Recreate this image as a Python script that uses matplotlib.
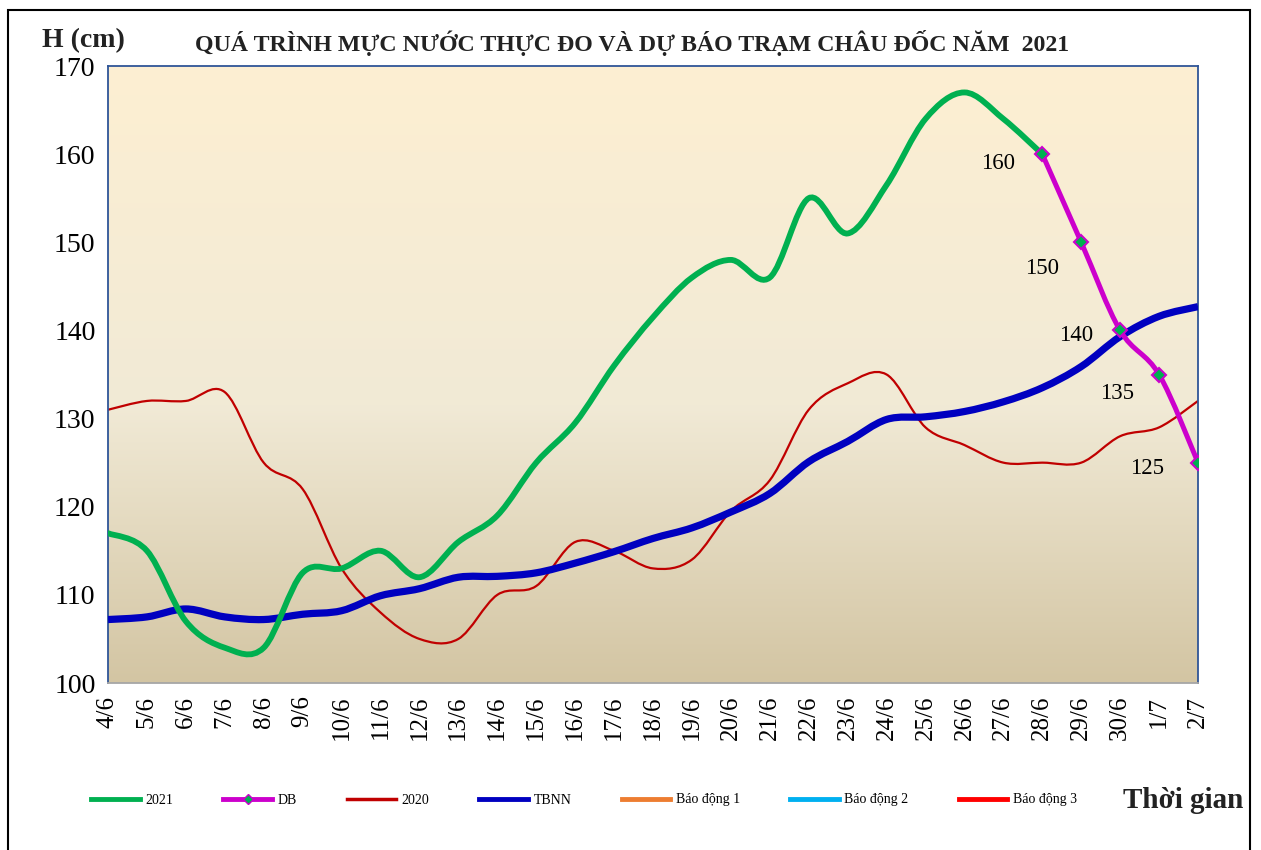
import numpy as np
import matplotlib.pyplot as plt
from matplotlib.path import Path
from matplotlib.patches import PathPatch, Rectangle
from matplotlib.lines import Line2D
from matplotlib.colors import LinearSegmentedColormap

plt.rcParams['font.family'] = ['Liberation Serif', 'DejaVu Serif']

# ---- data (cm) ----
dates = ["4/6", "5/6", "6/6", "7/6", "8/6", "9/6", "10/6", "11/6", "12/6", "13/6",
         "14/6", "15/6", "16/6", "17/6", "18/6", "19/6", "20/6", "21/6", "22/6", "23/6",
         "24/6", "25/6", "26/6", "27/6", "28/6", "29/6", "30/6", "1/7", "2/7"]

h2021 = [117, 115, 107, 104, 104, 112.5, 113, 115, 112, 116,
         119, 125, 129.5, 136, 141.5, 146, 148, 146, 155, 151,
         156.5, 164, 167, 164, 160]

db_dates = ["28/6", "29/6", "30/6", "1/7", "2/7"]
db_vals = [160, 150, 140, 135, 125]

h2020 = [131, 132, 132, 133, 125, 122, 113, 108, 105, 105,
         110, 111, 116, 115, 113, 114, 119.5, 123, 131, 134,
         135, 129, 127, 125, 125, 125, 128, 129, 132]

tbnn = [107.2, 107.5, 108.4, 107.5, 107.2, 107.8, 108.2, 109.9, 110.7, 112.0,
        112.1, 112.5, 113.6, 114.9, 116.4, 117.6, 119.4, 121.5, 125.1, 127.4,
        129.9, 130.2, 130.8, 131.9, 133.5, 135.9, 139.3, 141.6, 142.7]

# alarm levels at Chau Doc (off the visible range)
bd1, bd2, bd3 = 350, 400, 450

# label offsets for the forecast values (points)
db_label_off = [(-32, -7), (-28, -19), (-32, -4), (-30, -14), (-37, -4)]


def smooth_path(xs, ys):
    # Excel-like smoothed line: Catmull-Rom as cubic Bezier segments
    xs = np.asarray(xs, float)
    ys = np.asarray(ys, float)
    n = len(xs)
    verts = [(xs[0], ys[0])]
    codes = [Path.MOVETO]
    for i in range(n - 1):
        i0 = max(i - 1, 0)
        i3 = min(i + 2, n - 1)
        c1 = (xs[i] + (xs[i + 1] - xs[i0]) / 6, ys[i] + (ys[i + 1] - ys[i0]) / 6)
        c2 = (xs[i + 1] - (xs[i3] - xs[i]) / 6, ys[i + 1] - (ys[i3] - ys[i]) / 6)
        verts += [c1, c2, (xs[i + 1], ys[i + 1])]
        codes += [Path.CURVE4] * 3
    return Path(verts, codes)


fig = plt.figure(figsize=(12.61, 8.5), dpi=100)
fig.patch.set_facecolor('white')
ax = fig.add_axes([108 / 1261, 1 - 683 / 850, 1090 / 1261, 617 / 850])

x = np.arange(len(dates))
idx = {d: i for i, d in enumerate(dates)}
x_db = [idx[d] for d in db_dates]

# gradient background
cmap = LinearSegmentedColormap.from_list(
    'bg', [(0.0, (211/255, 197/255, 163/255)),
           (0.45, (241/255, 234/255, 214/255)),
           (1.0, (253/255, 239/255, 210/255))])
grad = np.linspace(0, 1, 256).reshape(-1, 1)
ax.imshow(grad, cmap=cmap, aspect='auto', origin='lower',
          extent=[0, 1, 0, 1], transform=ax.transAxes, zorder=0)

col2021 = '#00B050'
coldb = '#CC00CC'
col2020 = '#C00000'
coltb = '#0000C0'

ax.add_patch(PathPatch(smooth_path(x, h2020), fill=False, ec=col2020, lw=1.6, zorder=2))
ax.add_patch(PathPatch(smooth_path(x, tbnn), fill=False, ec=coltb, lw=5.2, zorder=3))
ax.add_patch(PathPatch(smooth_path(x[:len(h2021)], h2021), fill=False, ec=col2021, lw=4.2,
                       zorder=4, capstyle='round'))
ax.add_patch(PathPatch(smooth_path(x_db, db_vals), fill=False, ec=coldb, lw=3.6, zorder=5))
ax.plot(x_db, db_vals, ls='none', marker='D', ms=7.5, mfc=col2021, mec=coldb, mew=1.5, zorder=6)
for xi, v, off in zip(x_db, db_vals, db_label_off):
    ax.annotate(f"{v}", (xi, v), xytext=off, textcoords='offset points',
                ha='center', va='center', fontsize=16.5, zorder=7)

# alarm lines (above 170 cm, so clipped)
for lvl, c in [(bd1, '#ED7D31'), (bd2, '#00B0F0'), (bd3, '#FF0000')]:
    ax.plot(x, [lvl] * len(x), color=c, lw=3)

ax.set_xlim(0, len(dates) - 1)
ax.set_ylim(100, 170)
ax.set_yticks(range(100, 171, 10))
ax.set_xticks(x)
ax.set_xticklabels(dates, rotation=90, fontsize=18)
ax.tick_params(axis='y', labelsize=20, length=0, pad=9)
ax.tick_params(axis='x', length=0, pad=9)
for s in ['left', 'top', 'right']:
    ax.spines[s].set_color('#2F5597')
    ax.spines[s].set_linewidth(1.3)
ax.spines['bottom'].set_color('#A6A6A6')
ax.spines['bottom'].set_linewidth(1.3)

fig.text(42 / 1261, 1 - 41 / 850, "H (cm)", fontsize=20, fontweight='bold',
         ha='left', va='center', color='#222222')
fig.text(632 / 1261, 1 - 43 / 850,
         "QUÁ TRÌNH MỰC NƯỚC THỰC ĐO VÀ DỰ BÁO TRẠM CHÂU ĐỐC NĂM  2021",
         fontsize=17.2, fontweight='bold', ha='center', va='center', color='#222222')
fig.text(1243 / 1261, 1 - 800 / 850, "Thời gian", fontsize=21, fontweight='bold',
         ha='right', va='center', color='#222222')

handles = [
    Line2D([], [], color=col2021, lw=3.5),
    Line2D([], [], color=coldb, lw=3.5, marker='D', ms=5, mfc=col2021, mec=coldb,
           markevery=[1]),
    Line2D([], [], color=col2020, lw=2.5),
    Line2D([], [], color=coltb, lw=3.5),
    Line2D([], [], color='#ED7D31', lw=3.5),
    Line2D([], [], color='#00B0F0', lw=3.5),
    Line2D([], [], color='#FF0000', lw=3.5),
]
labels = ["2021", "DB", "2020", "TBNN", "Báo động 1", "Báo động 2", "Báo động 3"]
fig.legend(handles, labels, loc='center left', bbox_to_anchor=(91 / 1261, 1 - 800 / 850),
           ncol=7, frameon=False, fontsize=10, handlelength=3.5, handletextpad=0.4,
           columnspacing=3.62, borderpad=0, borderaxespad=0)

# outer frame
fig.patches.append(Rectangle((8 / 1261, -0.01), 1242 / 1261, 1 - 10 / 850 + 0.01,
                             transform=fig.transFigure, fill=False, ec='black', lw=1.5))

fig.savefig('out.png', dpi=100)
